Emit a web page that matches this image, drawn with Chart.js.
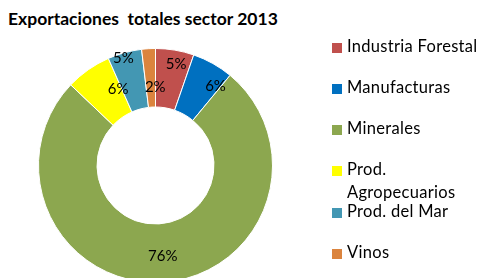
<!DOCTYPE html>
<html>
<head>
<meta charset="utf-8">
<script src="https://cdn.jsdelivr.net/npm/chart.js@4.4.1/dist/chart.umd.min.js"></script>
<style>
  html, body { margin: 0; padding: 0; overflow: hidden; background: #fff; }
  body { width: 478px; height: 278px; position: relative; font-family: Lato, 'Open Sans', sans-serif; }
  #title { position: absolute; left: 8px; top: 8px; font-weight: bold; font-size: 17.5px; color: #000; white-space: pre; }
  #wrap { position: absolute; left: 0; top: 0; width: 478px; height: 300px; }
  #legend { position: absolute; left: 332px; top: 0; font-size: 16.5px; letter-spacing: 0.3px; color: #000; }
  .lg-item { position: absolute; left: 0; white-space: nowrap; line-height: 23px; }
  .lg-box { position: absolute; left: 0; top: 8px; width: 10px; height: 10px; }
  .lg-text { position: absolute; left: 15px; top: 0; }
</style>
</head>
<body>
<div id="title">Exportaciones  totales sector 2013</div>
<div id="wrap"><canvas id="chart"></canvas></div>
<div id="legend"></div>
<script>
'use strict';

// sector share of exports, clockwise from 12 o'clock
const sectors = ['Industria Forestal', 'Manufacturas', 'Minerales', 'Prod. Agropecuarios', 'Prod. del Mar', 'Vinos'];
const shares = [5.3, 5.7, 76.1, 6.3, 4.7, 1.9];
const colors = ['#C0504D', '#0070C0', '#8CA74F', '#FFFF00', '#4397B3', '#DB843E'];

// legend rows (Agropecuarios wraps like the original)
const legendLines = [['Industria Forestal'], ['Manufacturas'], ['Minerales'], ['Prod.', 'Agropecuarios'], ['Prod. del Mar'], ['Vinos']];

// hand-moved data labels: pixel nudge from each slice's centre, in sector order
const labelShift = [[6, -15], [17, -3], [2, 3], [13, -5], [-9, -23], [5, 9]];

// ── legend ──────────────────────────────────────────────────────────────
const legendEl = document.getElementById('legend');
const rowTops = [35, 76, 117, 158, 200, 241];
legendLines.forEach((lines, i) => {
  const item = document.createElement('div');
  item.className = 'lg-item';
  item.style.top = rowTops[i] + 'px';
  item.innerHTML = `<span class="lg-box" style="background:${colors[i]}"></span>` +
    `<span class="lg-text">${lines.join('<br>')}</span>`;
  legendEl.appendChild(item);
});

// ── percentage labels ───────────────────────────────────────────────────
const pctLabels = {
  id: 'pctLabels',
  afterDatasetsDraw(chart) {
    const { ctx } = chart;
    const meta = chart.getDatasetMeta(0);
    const total = shares.reduce((a, b) => a + b, 0);
    ctx.save();
    ctx.font = '15px Lato, "Open Sans", sans-serif';
    ctx.fillStyle = '#000';
    ctx.textAlign = 'center';
    ctx.textBaseline = 'middle';
    meta.data.forEach((arc, i) => {
      const p = arc.tooltipPosition();
      const s = labelShift[i] || [0, 0];
      ctx.fillText(Math.round(shares[i] / total * 100) + '%', p.x + s[0], p.y + s[1]);
    });
    ctx.restore();
  }
};

new Chart(document.getElementById('chart'), {
  type: 'doughnut',
  data: {
    labels: sectors,
    datasets: [{
      data: shares,
      backgroundColor: colors,
      borderColor: '#ffffff',
      borderWidth: 1,
    }]
  },
  options: {
    responsive: true,
    maintainAspectRatio: false,
    animation: false,
    cutout: '50%',
    layout: { padding: { left: 38, right: 205, top: 48, bottom: 17 } },
    plugins: {
      legend: { display: false },
      tooltip: { enabled: false },
      title: { display: false }
    }
  },
  plugins: [pctLabels]
});
</script>
</body>
</html>
